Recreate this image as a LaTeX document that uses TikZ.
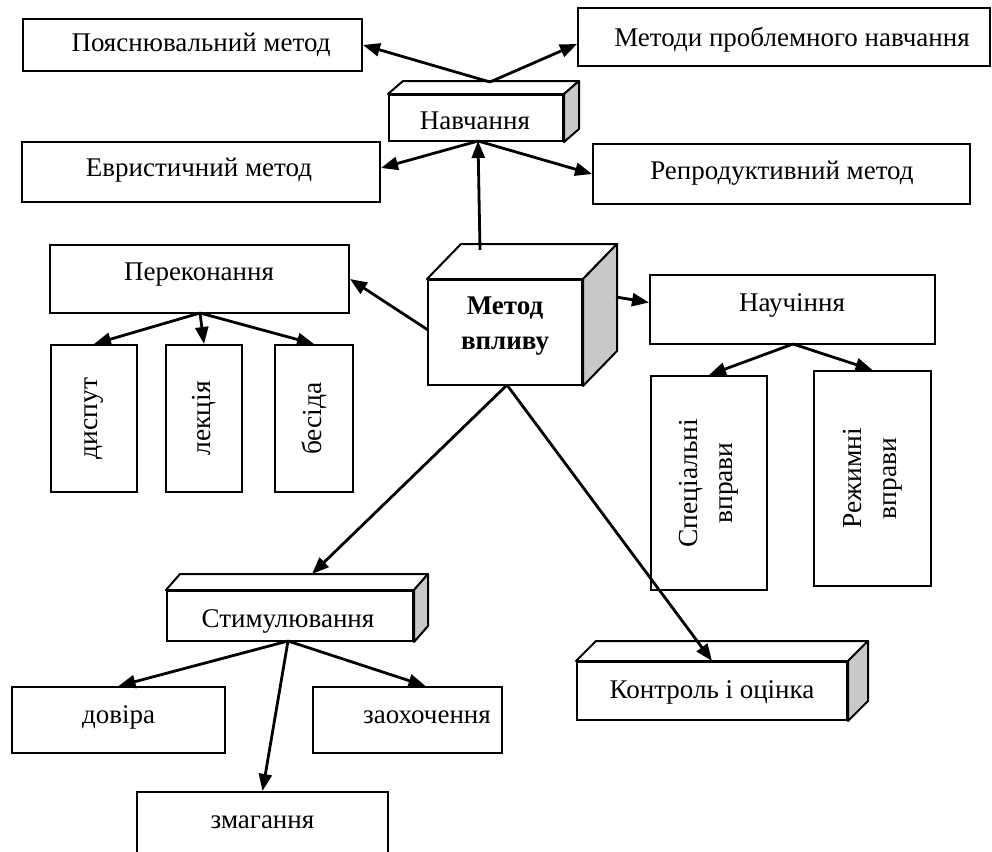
\documentclass[tikz,border=0pt]{standalone}
\usepackage{fontspec}
\setmainfont{Liberation Serif}
\usetikzlibrary{arrows.meta}
\definecolor{sidegray}{RGB}{200,200,200}
\newcommand{\cubetop}[3]{%
  \draw[face] (#1.north west) -- ++(#2,-#3) -- ([shift={(#2,-#3)}]#1.north east) -- (#1.north east) -- cycle;
  \draw[side] (#1.north east) -- ([shift={(#2,-#3)}]#1.north east) -- ([shift={(#2,-#3)}]#1.south east) -- (#1.south east) -- cycle;}
\begin{document}
\begin{tikzpicture}[x=1pt,y=-1pt,
  box/.style={draw, line width=2pt, inner sep=0pt, fill=white},
  txt/.style={font=\fontsize{27}{31}\selectfont, inner sep=0pt, anchor=base},
  vtxt/.style={font=\fontsize{27.5}{35}\selectfont, inner sep=0pt, rotate=90, align=center},
  btxt/.style={font=\fontsize{27}{35}\selectfont\bfseries, inner sep=0pt, align=center},
  arr/.style={line width=2.8pt, -{Triangle[length=17pt,width=13pt]}},
  face/.style={draw, line width=2pt, line join=round, fill=white},
  side/.style={draw, line width=2pt, line join=round, fill=sidegray}]
\useasboundingbox (0,0) rectangle (992,851);
\clip (0,0) rectangle (992,851);

% top row
\node[box, minimum width=339pt, minimum height=52pt] (pm) at (192.5,45) {};
\node[txt] (pmt) at (201,52) {Пояснювальний метод};
\node[box, minimum width=412pt, minimum height=58pt] (mpn) at (784,37) {};
\node[txt] (mpnt) at (792,46) {Методи проблемного навчання};

% Навчання cube
\node[box, minimum width=174pt, minimum height=46pt] (nav) at (476,118) {};
\cubetop{nav}{15}{13}
\node[txt] (navt) at (475,129) {Навчання};

\node[box, minimum width=358pt, minimum height=60pt] (em) at (201,172) {};
\node[txt] (emt) at (199,176) {Евристичний метод};
\node[box, minimum width=377pt, minimum height=60pt] (rm) at (781.5,174) {};
\node[txt] (rmt) at (782,179) {Репродуктивний метод};

% Переконання
\node[box, minimum width=299pt, minimum height=68pt] (per) at (199.5,279) {};
\node[txt] (pert) at (199,280) {Переконання};
\node[box, minimum width=86pt, minimum height=147pt] (disp) at (94,418.5) {};
\node[vtxt] (dispt) at (94,418.5) {диспут};
\node[box, minimum width=76pt, minimum height=147pt] (leks) at (204,418.5) {};
\node[vtxt] (lekst) at (204,418.5) {лекція};
\node[box, minimum width=78pt, minimum height=147pt] (bes) at (314,418.5) {};
\node[vtxt] (best) at (314,418.5) {бесіда};

% Метод впливу cube
\node[box, minimum width=154pt, minimum height=105pt] (mv) at (505,332.5) {};
\cubetop{mv}{34}{35}
\node[btxt] (mvt) at (505,326) {Метод\\впливу};

% Научіння
\node[box, minimum width=285pt, minimum height=69pt] (nauch) at (792.5,309.5) {};
\node[txt] (naucht) at (792,311) {Научіння};
\node[box, minimum width=116pt, minimum height=214pt] (spec) at (709,483) {};
\node[vtxt] (spect) at (709,483) {Спеціальні\\вправи};
\node[box, minimum width=117pt, minimum height=215pt] (rezh) at (872.5,478.5) {};
\node[vtxt] (rezht) at (872.5,478.5) {Режимні\\вправи};

% Стимулювання cube
\node[box, minimum width=246pt, minimum height=50pt] (stim) at (290,616) {};
\cubetop{stim}{14}{16}
\node[txt] (stimt) at (288,627) {Стимулювання};

% Контроль і оцінка cube
\node[box, minimum width=270pt, minimum height=58pt] (kontr) at (712,691) {};
\cubetop{kontr}{20}{20}
\node[txt] (kontrt) at (712,698) {Контроль і оцінка};

% bottom boxes
\node[box, minimum width=213pt, minimum height=66pt] (dov) at (118.5,720) {};
\node[txt] (dovt) at (118.5,723) {довіра};
\node[box, minimum width=189pt, minimum height=66pt] (zao) at (407.5,720) {};
\node[txt] (zaot) at (427,723) {заохочення};
\node[box, minimum width=251pt, minimum height=78pt] (zmag) at (262.5,831) {};
\node[txt] (zmagt) at (262.5,828) {змагання};

% hub coordinates
\coordinate (navtop) at (490,82);
\coordinate (navbot) at (478,141);
\coordinate (mvtop) at (480,250);
\coordinate (mvleft) at (428,330);
\coordinate (mvside) at (616,297);
\coordinate (mvbot) at (507,385);
\coordinate (perbot) at (200,313);
\coordinate (nauchbot) at (793,344);
\coordinate (stimbot) at (288,641);

% connectors
\draw[arr] (navtop) -- (pm.east);
\draw[arr] (navtop) -- ([yshift=-7pt]mpn.west);
\draw[arr] (navbot) -- ([yshift=4pt]em.east);
\draw[arr] (navbot) -- (rm.west);
\draw[arr] (mvtop) -- (navbot);
\draw[arr] (mvleft) -- (per.east);
\draw[arr] (mvside) -- ([yshift=7pt]nauch.west);
\draw[arr] (mvbot) -- ([shift={(22,-16)}]stim.north);
\draw[arr] (mvbot) -- (kontr.north);
\draw[arr] (perbot) -- (disp.north);
\draw[arr] (perbot) -- (leks.north);
\draw[arr] (perbot) -- (bes.north);
\draw[arr] (nauchbot) -- (spec.north);
\draw[arr] (nauchbot) -- (rezh.north);
\draw[arr] (stimbot) -- (dov.north);
\draw[arr] (stimbot) -- ([xshift=18pt]zao.north);
\draw[arr] (stimbot) -- (zmag.north);
\end{tikzpicture}
\end{document}
